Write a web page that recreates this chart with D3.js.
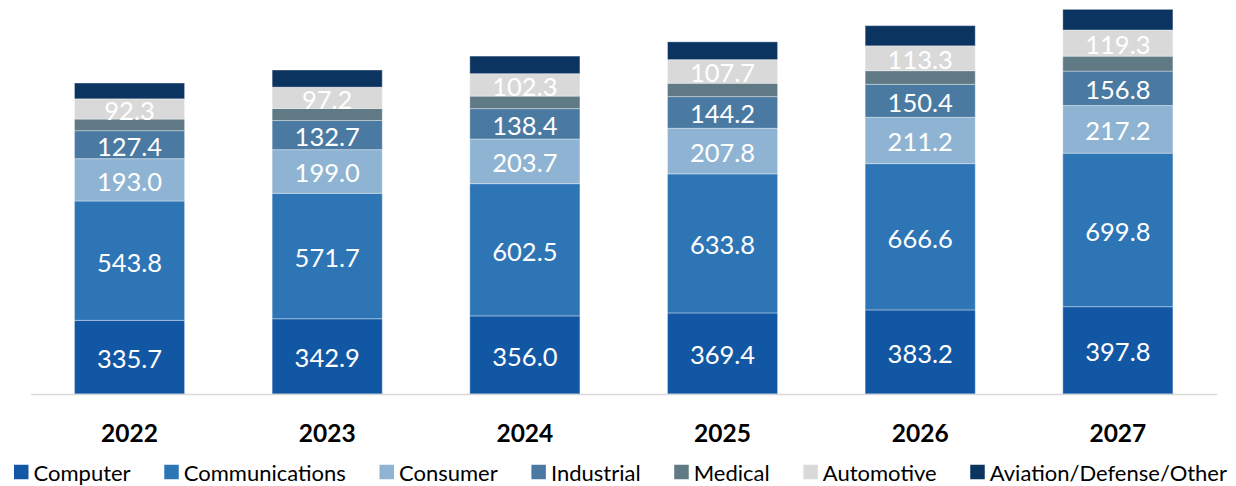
<!DOCTYPE html>
<html>
<head>
<meta charset="utf-8">
<script src="https://cdn.jsdelivr.net/npm/d3@7"></script>
<style>
  html, body { margin: 0; padding: 0; background: #ffffff; }
  svg { display: block; font-family: Lato, "Noto Sans", sans-serif; }
</style>
</head>
<body>
<svg id="chart" width="1236" height="486"></svg>
<script>
// Years on the x axis
const years = ["2022", "2023", "2024", "2025", "2026", "2027"];

// Segment values per year, bottom to top
const computer       = [335.7, 342.9, 356.0, 369.4, 383.2, 397.8];
const communications = [543.8, 571.7, 602.5, 633.8, 666.6, 699.8];
const consumer       = [193.0, 199.0, 203.7, 207.8, 211.2, 217.2];
const industrial     = [127.4, 132.7, 138.4, 144.2, 150.4, 156.8];
const medical        = [53, 55, 57, 61, 62, 68];
const automotive     = [92.3, 97.2, 102.3, 107.7, 113.3, 119.3];
const aviation       = [72, 78, 80, 81, 92, 94];

// Series names, in stacking order
const seriesNames = ["Computer", "Communications", "Consumer", "Industrial",
                     "Medical", "Automotive", "Aviation/Defense/Other"];
const seriesValues = [computer, communications, consumer, industrial,
                      medical, automotive, aviation];
// Segments that carry a value label
const labelled = [true, true, true, true, false, true, false];

const colors = ["#1257a4", "#2e75b6", "#8fb4d3", "#4a7aa2",
                "#5f7a85", "#d9d9d9", "#0c3461"];

const svg = d3.select("#chart");

// Table of rows for d3.stack
const rows = years.map((y, i) => {
  const r = { year: y };
  seriesNames.forEach((n, k) => { r[n] = seriesValues[k][i]; });
  return r;
});

const stack = d3.stack().keys(seriesNames);
const layers = stack(rows);

const x = d3.scaleBand()
  .domain(years)
  .range([30.7, 1216.7])
  .paddingInner(0.443)
  .paddingOuter(0.2215);

const y = d3.scaleLinear()
  .domain([0, 1750])
  .range([394, 10]);

const fmt = d3.format(".1f");

// Stacked bars
const g = svg.append("g");
layers.forEach((layer, k) => {
  const lg = g.append("g");
  lg.selectAll("rect")
    .data(layer)
    .join("rect")
    .attr("x", d => x(d.data.year))
    .attr("width", x.bandwidth())
    .attr("y", d => y(d[1]))
    .attr("height", d => y(d[0]) - y(d[1]))
    .attr("fill", colors[k])
    .attr("stroke", "#ffffff")
    .attr("stroke-opacity", 0.35)
    .attr("stroke-width", 1);

  if (labelled[k]) {
    lg.selectAll("text")
      .data(layer)
      .join("text")
      .attr("x", d => x(d.data.year) + x.bandwidth() / 2)
      .attr("y", d => (y(d[0]) + y(d[1])) / 2 + 1)
      .attr("text-anchor", "middle")
      .attr("dominant-baseline", "central")
      .attr("fill", "#ffffff")
      .attr("font-size", 25.5)
      .text(d => fmt(d[1] - d[0]));
  }
});

// Baseline axis with bold year labels
const xAxis = svg.append("g")
  .attr("transform", "translate(0,394)")
  .call(d3.axisBottom(x).tickSize(0).tickPadding(0));
xAxis.select(".domain")
  .attr("stroke", "#d9d9d9")
  .attr("stroke-width", 1.5);
xAxis.selectAll(".tick text")
  .attr("y", 38)
  .attr("dy", null)
  .attr("dominant-baseline", "central")
  .attr("font-family", "Lato, 'Noto Sans', sans-serif")
  .attr("font-size", 24.5)
  .attr("font-weight", "bold")
  .attr("fill", "#000000");

// Legend laid out across the full width
const legend = svg.append("g").attr("transform", "translate(0,472)");
const sq = 14.5, txtGap = 5;
const items = seriesNames.map((n, k) => {
  const it = legend.append("g");
  it.append("rect")
    .attr("width", sq).attr("height", sq)
    .attr("y", -sq / 2)
    .attr("fill", colors[k]);
  const t = it.append("text")
    .attr("x", sq + txtGap)
    .attr("dominant-baseline", "central")
    .attr("font-size", 22)
    .attr("fill", "#000000")
    .text(n);
  return { it, w: sq + txtGap + t.node().getComputedTextLength() };
});
const left = 14, right = 1227;
const total = d3.sum(items, d => d.w);
const gap = (right - left - total) / (items.length - 1);
let cx = left;
items.forEach(d => {
  d.it.attr("transform", `translate(${cx},0)`);
  cx += d.w + gap;
});
</script>
</body>
</html>
